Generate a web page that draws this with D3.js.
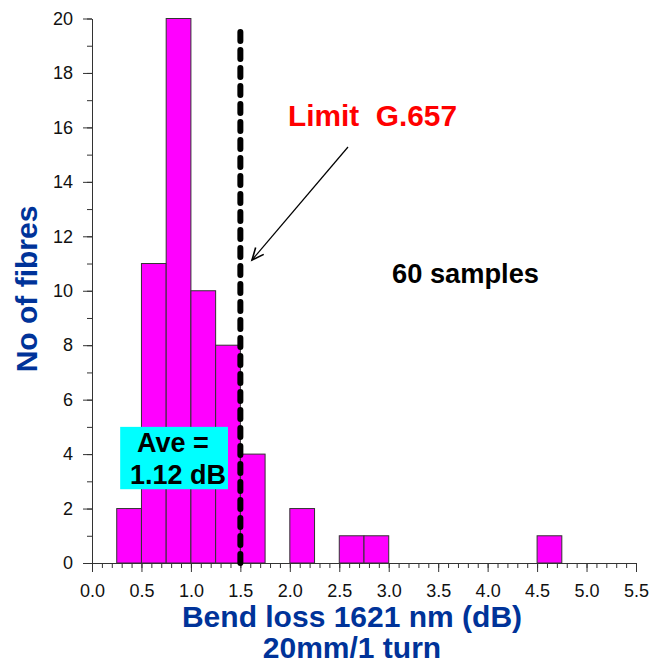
<!DOCTYPE html>
<html>
<head>
<meta charset="utf-8">
<script src="https://cdn.jsdelivr.net/npm/d3@7"></script>
<style>
  html, body { margin: 0; padding: 0; background: #fff; }
  svg { display: block; font-family: "Liberation Sans", Arial, sans-serif; }
</style>
</head>
<body>
<svg id="chart" width="664" height="665"></svg>
<script>
// ---- data ----
const binStarts = [0.25, 0.5, 0.75, 1.0, 1.25, 1.5, 2.0, 2.5, 2.75, 4.5];
const counts    = [2, 11, 20, 10, 8, 4, 2, 1, 1, 1];
const binWidth  = 0.25;
const xTickValues = [0, 0.5, 1.0, 1.5, 2.0, 2.5, 3.0, 3.5, 4.0, 4.5, 5.0, 5.5];
const yTickValues = [0, 2, 4, 6, 8, 10, 12, 14, 16, 18, 20];
const limitValue = 1.5;
const limitTop = 19.8;
const limitLabel = "Limit\u00a0\u00a0G.657";
const samplesLabel = "60 samples";
const aveLines = ["Ave =", "1.12 dB"];
const xTitleLines = ["Bend loss 1621 nm (dB)", "20mm/1 turn"];
const yTitle = "No of fibres";

// ---- layout ----
const svg = d3.select("#chart");
const x = d3.scaleLinear().domain([0, 5.5]).range([92, 636]);
const y = d3.scaleLinear().domain([0, 20]).range([563, 18.5]);
const axisColor = "#333";
const titleColor = "#003399";

const bars = binStarts.map((s, i) => ({ x0: s, x1: s + binWidth, n: counts[i] }));

// bars
svg.append("g").selectAll("rect").data(bars).join("rect")
  .attr("x", d => x(d.x0))
  .attr("y", d => y(d.n))
  .attr("width", d => x(d.x1) - x(d.x0))
  .attr("height", d => y(0) - y(d.n))
  .attr("fill", "#ff00ff")
  .attr("stroke", "#333")
  .attr("stroke-width", 1);

// x axis: major ticks + minor ticks
const xAxisG = svg.append("g").attr("transform", `translate(0,${y(0)})`);
xAxisG.call(d3.axisBottom(x).tickValues(d3.range(0, 5.5001, 0.1)).tickSize(5).tickFormat(""));
xAxisG.call(g => g.select(".domain").remove());
const xMajor = svg.append("g").attr("transform", `translate(0,${y(0)})`)
  .call(d3.axisBottom(x).tickValues(xTickValues).tickSize(9).tickSizeOuter(0).tickPadding(12)
    .tickFormat(d3.format(".1f")));
[xAxisG, xMajor].forEach(g => {
  g.selectAll("line").attr("stroke", axisColor);
  g.selectAll(".domain").attr("stroke", axisColor);
});
xMajor.selectAll("text").attr("font-size", 18).attr("fill", "#111")
  .attr("font-family", "'Liberation Sans', Arial, sans-serif");

// y axis
const yMinor = svg.append("g").attr("transform", `translate(${x(0)},0)`)
  .call(d3.axisLeft(y).tickValues(d3.range(0, 20.001, 1)).tickSize(5).tickFormat(""));
yMinor.select(".domain").remove();
const yMajor = svg.append("g").attr("transform", `translate(${x(0)},0)`)
  .call(d3.axisLeft(y).tickValues(yTickValues).tickSize(9).tickSizeOuter(0).tickPadding(10));
[yMinor, yMajor].forEach(g => {
  g.selectAll("line").attr("stroke", axisColor);
  g.selectAll(".domain").attr("stroke", axisColor);
});
yMajor.selectAll("text").attr("font-size", 18).attr("fill", "#111")
  .attr("font-family", "'Liberation Sans', Arial, sans-serif");

// Average box
const box = { x0: 0.285, x1: 1.375, y0: 5.0, y1: 2.71 };
svg.append("rect")
  .attr("x", x(box.x0)).attr("y", y(box.y0))
  .attr("width", x(box.x1) - x(box.x0)).attr("height", y(box.y1) - y(box.y0))
  .attr("fill", "#00ffff");
svg.append("text").attr("x", 173).attr("y", 452).attr("text-anchor", "middle")
  .attr("font-size", 27).attr("font-weight", "bold").attr("fill", "#000").text(aveLines[0]);
svg.append("text").attr("x", 178).attr("y", 484).attr("text-anchor", "middle")
  .attr("font-size", 27).attr("font-weight", "bold").attr("fill", "#000").text(aveLines[1]);

// dashed limit line
svg.append("line")
  .attr("x1", x(limitValue)).attr("x2", x(limitValue))
  .attr("y1", y(0)).attr("y2", y(limitTop))
  .attr("stroke", "#000").attr("stroke-width", 6)
  .attr("stroke-linecap", "round").attr("stroke-dasharray", "9,9");

// limit label and arrow
svg.append("text").attr("x", 288).attr("y", 126)
  .attr("font-size", 29).attr("font-weight", "bold").attr("fill", "#ff0000")
  .attr("textLength", 169).attr("lengthAdjust", "spacingAndGlyphs").text(limitLabel);

const ax0 = 348, ay0 = 147, ax1 = 252, ay1 = 260;
svg.append("line").attr("x1", ax0).attr("y1", ay0).attr("x2", ax1).attr("y2", ay1)
  .attr("stroke", "#000").attr("stroke-width", 1.2);
const ang = Math.atan2(ay1 - ay0, ax1 - ax0);
const hl = 13, spread = 0.42;
const p1 = [ax1 - hl * Math.cos(ang - spread), ay1 - hl * Math.sin(ang - spread)];
const p2 = [ax1 - hl * Math.cos(ang + spread), ay1 - hl * Math.sin(ang + spread)];
svg.append("path")
  .attr("d", `M${p1[0]},${p1[1]}L${ax1},${ay1}L${p2[0]},${p2[1]}`)
  .attr("fill", "none").attr("stroke", "#000").attr("stroke-width", 1.6);

svg.append("text").attr("x", 392).attr("y", 283)
  .attr("font-size", 27).attr("font-weight", "bold").attr("fill", "#000")
  .attr("textLength", 147).attr("lengthAdjust", "spacingAndGlyphs").text(samplesLabel);

// axis titles
svg.append("text").attr("x", 352).attr("y", 627).attr("text-anchor", "middle")
  .attr("font-size", 30).attr("font-weight", "bold").attr("fill", titleColor).text(xTitleLines[0]);
svg.append("text").attr("x", 352).attr("y", 658).attr("text-anchor", "middle")
  .attr("font-size", 30).attr("font-weight", "bold").attr("fill", titleColor).text(xTitleLines[1]);
svg.append("text").attr("transform", "translate(37,289) rotate(-90)").attr("text-anchor", "middle")
  .attr("font-size", 30).attr("font-weight", "bold").attr("fill", titleColor).text(yTitle);
</script>
</body>
</html>
